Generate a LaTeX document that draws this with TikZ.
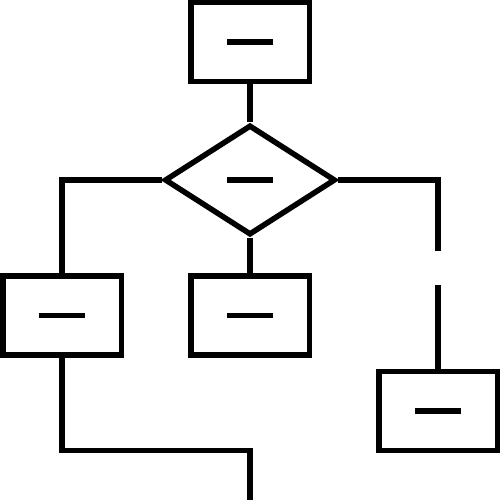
\documentclass[tikz,border=0pt]{standalone}
\usetikzlibrary{shapes.geometric}
\begin{document}
\begin{tikzpicture}[x=1pt,y=-1pt,line width=5.5pt,line join=miter,
  box/.style={draw,rectangle,minimum width=118.5pt,minimum height=79pt,inner sep=0pt},
  dec/.style={draw,diamond,minimum width=171pt,minimum height=110pt,inner sep=0pt},
  conn/.style={draw,line cap=butt},
  bar/.style={line cap=butt}]
\useasboundingbox (0,0) rectangle (500,500);
\node[box] (top) at (250,42) {};
\node[dec] (d) at (250,180) {};
\node[box] (left) at (62,315.7) {};
\node[box] (mid) at (250,315.7) {};
\node[box] (right) at (438,411) {};
\foreach \n in {top,d,left,mid,right}
  \draw[bar] ([xshift=-23pt]\n.center) -- ([xshift=23pt]\n.center);
\coordinate (r1) at (438,250.7);
\coordinate (r2) at (438,285);
\coordinate (bend) at (250,450.3);
\coordinate (endc) at (250,505);
\draw[conn] (top.south) -- (d.north);
\draw[conn] (d.west) -| (left.north);
\draw[conn] (d.south) -- (mid.north);
\draw[conn] (d.east) -| (r1);
\draw[conn] (r2) -- (right.north);
\draw[conn] (left.south) |- (bend) -- (endc);
\end{tikzpicture}
\end{document}
